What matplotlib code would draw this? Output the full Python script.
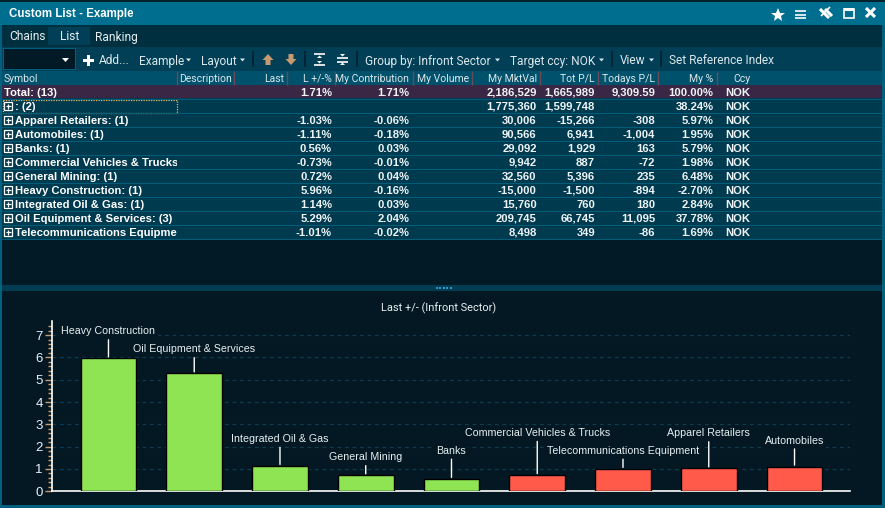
#!/usr/bin/env python3
import matplotlib
matplotlib.use("Agg")
import matplotlib.pyplot as plt
from matplotlib.patches import Rectangle, Polygon

W, H = 885, 508

# table data
row_labels = ["Total: (13)", ": (2)", "Apparel Retailers: (1)", "Automobiles: (1)", "Banks: (1)",
              "Commercial Vehicles & Trucks: (1)", "General Mining: (1)", "Heavy Construction: (1)",
              "Integrated Oil & Gas: (1)", "Oil Equipment & Services: (3)",
              "Telecommunications Equipment: (1)"]
l_pct = ["1.71%", "", "-1.03%", "-1.11%", "0.56%", "-0.73%", "0.72%", "5.96%", "1.14%", "5.29%", "-1.01%"]
my_contribution = ["1.71%", "", "-0.06%", "-0.18%", "0.03%", "-0.01%", "0.04%", "-0.16%", "0.03%", "2.04%", "-0.02%"]
my_mktval = ["2,186,529", "1,775,360", "30,006", "90,566", "29,092", "9,942", "32,560", "-15,000",
             "15,760", "209,745", "8,498"]
tot_pl = ["1,665,989", "1,599,748", "-15,266", "6,941", "1,929", "887", "5,396", "-1,500", "760", "66,745", "349"]
todays_pl = ["9,309.59", "", "-308", "-1,004", "163", "-72", "235", "-894", "180", "11,095", "-86"]
my_pct = ["100.00%", "38.24%", "5.97%", "1.95%", "5.79%", "1.98%", "6.48%", "-2.70%", "2.84%", "37.78%", "1.69%"]
ccy = ["NOK"] * 11

# chart data
chart_sectors = ["Heavy Construction", "Oil Equipment & Services", "Integrated Oil & Gas", "General Mining",
                 "Banks", "Commercial Vehicles & Trucks", "Telecommunications Equipment",
                 "Apparel Retailers", "Automobiles"]
chart_changes = [5.96, 5.29, 1.14, 0.72, 0.56, -0.73, -1.01, -1.03, -1.11]
y_ticks = [0, 1, 2, 3, 4, 5, 6, 7]

# layout only: how far each label sits above its bar, in pixels
label_offsets = [27, 24, 27, 18, 28, 42, 18, 35, 26]

PANEL = "#031822"
TABLE = "#003a4f"
SANS = "Liberation Sans"
UI = "Roboto"

fig = plt.figure(figsize=(W / 100, H / 100), dpi=100, facecolor="#00607f")
bg = fig.add_axes([0, 0, 1, 1])
bg.set_xlim(0, W)
bg.set_ylim(H, 0)
bg.axis("off")


def box(x0, y0, x1, y1, color, **kw):
    bg.add_patch(Rectangle((x0, y0), x1 - x0, y1 - y0, facecolor=color, edgecolor="none", **kw))


def line(xs, ys, color="white", lw=1.0, **kw):
    bg.plot(xs, ys, color=color, lw=lw, solid_capstyle="butt", **kw)


def caret(x, y):
    bg.add_patch(Polygon([(x, y - 1.5), (x + 5, y - 1.5), (x + 2.5, y + 1.5)], facecolor="#d8e6ea", edgecolor="none"))


# window chrome
box(0, 0, W, 2, "#03222e")
box(0, 2, W, 25, "#006e8f")
box(2, 25, W - 3, 47, "#00303f")
box(2, 47, W - 3, 71, "#003f55")
box(2, 71, W - 3, 85, "#00516b")
box(2, 85, W - 3, 239, TABLE)
box(2, 239, W - 3, 285, "#021a26")
box(2, 285, W - 3, 291, "#003c52")
box(2, 291, W - 3, 505, PANEL)
box(48, 27, 90, 45, "#003f55")
for i in range(5):
    box(436 + i * 3.4, 287, 438 + i * 3.4, 289, "#2a9ad0")

bg.text(9, 14.5, "Custom List - Example", color="white", fontsize=8.3, fontweight="bold",
        family=SANS, va="center", ha="left")
for x, s in [(9, "Chains"), (60, "List"), (95, "Ranking")]:
    bg.text(x, 35.5, s, color="#e8f0f2", fontsize=8.6, family=UI, va="center_baseline", ha="left")

# title bar icons
bg.plot([777.5], [14.5], marker="*", ms=10, color="white", mew=0)
for y in (11, 14.5, 18):
    line([795, 806], [y, y], lw=1.2)
line([820, 829], [9, 18], lw=2.2)
line([825, 832], [9, 16], lw=2.2)
line([821, 830], [16, 7], lw=1.2)
bg.add_patch(Rectangle((844, 9), 10, 9, facecolor="none", edgecolor="white", lw=1.2))
box(844, 8, 854, 11, "white")
line([866, 875], [8, 17], lw=2.2)
line([866, 875], [17, 8], lw=2.2)

# toolbar
box(3, 48, 76, 70, "#00607f")
box(4, 49, 75, 69, "#021a26")
bg.add_patch(Polygon([(62, 58), (69, 58), (65.5, 62)], facecolor="white", edgecolor="none"))
box(83, 59, 94, 61.6, "white")
box(87.2, 55, 89.8, 65.5, "white")
for x, s, c in [(99, "Add...", None), (139, "Example", 186), (201, "Layout", 240),
                (365, "Group by: Infront Sector", 495), (510, "Target ccy: NOK", 599),
                (620, "View", 649), (669, "Set Reference Index", None)]:
    bg.text(x, 59.5, s, color="#dce8ec", fontsize=8.6, family=UI, va="center_baseline", ha="left")
    if c:
        caret(c, 60)
for x in (252.5, 304.5, 356.5, 611.5, 660.5):
    line([x, x], [51, 67], color="#02202c", lw=1.2)

# up/down arrows
tan = "#c8986f"
bg.add_patch(Polygon([(268, 54), (273.5, 60), (270.5, 60), (270.5, 65), (265.5, 65), (265.5, 60), (262.5, 60)],
                     facecolor=tan, edgecolor="none"))
bg.add_patch(Polygon([(291, 65), (296.5, 59), (293.5, 59), (293.5, 54), (288.5, 54), (288.5, 59), (285.5, 59)],
                     facecolor=tan, edgecolor="none"))
for y in (54, 65):
    line([314, 325], [y, y], lw=1.2)
bg.add_patch(Polygon([(317, 58), (322, 58), (319.5, 55.5)], facecolor="white"))
bg.add_patch(Polygon([(317, 61), (322, 61), (319.5, 63.5)], facecolor="white"))
for y in (57.5, 61.5):
    line([337, 348], [y, y], lw=1.2)
bg.add_patch(Polygon([(340, 54), (345, 54), (342.5, 56.5)], facecolor="white"))
bg.add_patch(Polygon([(340, 65), (345, 65), (342.5, 62.5)], facecolor="white"))

# column headers
for x in (177, 233.5, 286.7, 334.5, 412.7, 471.7, 539.7, 597.7, 657.7, 717):
    line([x, x], [71, 85], color="#6a4a5a", lw=1.0)
bg.text(4, 78, "Symbol", color="#dce8ec", fontsize=7.5, family=UI, va="center_baseline", ha="left")
bg.text(179, 78, "Description", color="#dce8ec", fontsize=7.5, family=UI, va="center_baseline", ha="left")
for x, s in [(284, "Last"), (332, "L +/-%"), (409, "My Contribution"), (469, "My Volume"), (537, "My MktVal"),
             (595, "Tot P/L"), (655, "Todays P/L"), (713, "My %"), (751, "Ccy")]:
    bg.text(x, 78, s, color="#dce8ec", fontsize=7.5, family=UI, va="center_baseline", ha="right")

# table rows
box(2, 85, W - 3, 98, "#3a2645")
col_right = [(332, l_pct), (409.7, my_contribution), (536.7, my_mktval), (595, tot_pl),
             (655, todays_pl), (713.3, my_pct), (750.7, ccy)]
clip = Rectangle((0, 80), 176.5, 170, transform=bg.transData)
for i, label in enumerate(row_labels):
    y = 92 + 14 * i
    line([2, W - 3], [y + 7, y + 7], color="#02607c", lw=0.7)
    x = 4 if i == 0 else 15
    t = bg.text(x, y + 0.6, label, color="white", fontsize=8.1, fontweight="bold", family=SANS, va="center", ha="left")
    t.set_clip_path(clip)
    t.set_clip_on(True)
    if i > 0:
        bg.add_patch(Rectangle((4.3, y - 4), 8, 8, facecolor="none", edgecolor="white", lw=0.9))
        line([5.8, 10.8], [y, y], lw=0.9)
        line([8.3, 8.3], [y - 2.5, y + 2.5], lw=0.9)
    for xr, col in col_right:
        bg.text(xr, y + 0.6, col[i], color="#eef4f6", fontsize=8.1, fontweight="bold", family=SANS, va="center", ha="right")
bg.add_patch(Rectangle((3, 99.5), 173.5, 13, facecolor="none", edgecolor="#e8b860", lw=0.9, ls=(0, (1, 1))))

bg.text(439, 307, "Last +/- (Infront Sector)", color="#e8f0f2", fontsize=7.9, family=UI, va="center_baseline", ha="center")

# bar chart
ax = fig.add_axes([52.3 / W, (H - 491.3) / H, (850 - 52.3) / W, (491.3 - 321) / H], facecolor="none")
positions = list(range(len(chart_sectors)))
heights = [abs(v) for v in chart_changes]
colors = ["#8ee452" if v >= 0 else "#ff5a4a" for v in chart_changes]
ax.bar(positions, heights, width=0.65, color=colors, edgecolor="black", linewidth=1.0, zorder=3)
ax.set_xlim(-0.655, 8.647)
ax.set_ylim(0, 7.63)
ax.set_yticks(y_ticks)
ax.set_yticks([t / 5 for t in range(0, 38)], minor=True)
ax.set_xticks([])
ax.tick_params(axis="y", which="major", length=5, width=1, color=tan, labelcolor="#e8f4ff", labelsize=9.5, pad=2)
ax.tick_params(axis="y", which="minor", length=3, width=1, color=tan)
for lab in ax.get_yticklabels():
    lab.set_family(SANS)
ax.grid(axis="y", which="major", color="#0d3c4e", linestyle=(0, (3, 3)), linewidth=0.9, zorder=1)
for side in ("top", "right"):
    ax.spines[side].set_visible(False)
for side in ("left", "bottom"):
    ax.spines[side].set_color("white")
    ax.spines[side].set_linewidth(1.2)

for pos, h, name, off in zip(positions, heights, chart_sectors, label_offsets):
    ax.annotate(name, xy=(pos, h), xytext=(0, off), textcoords="offset pixels", ha="center", va="center",
                color="#e8f0f2", fontsize=7.7, family=SANS, zorder=5, annotation_clip=False,
                bbox=dict(facecolor=PANEL, edgecolor="none", pad=1.5),
                arrowprops=dict(arrowstyle="-", color="white", lw=1.0, shrinkA=1, shrinkB=1))

fig.savefig("out.png", dpi=100, facecolor=fig.get_facecolor())
